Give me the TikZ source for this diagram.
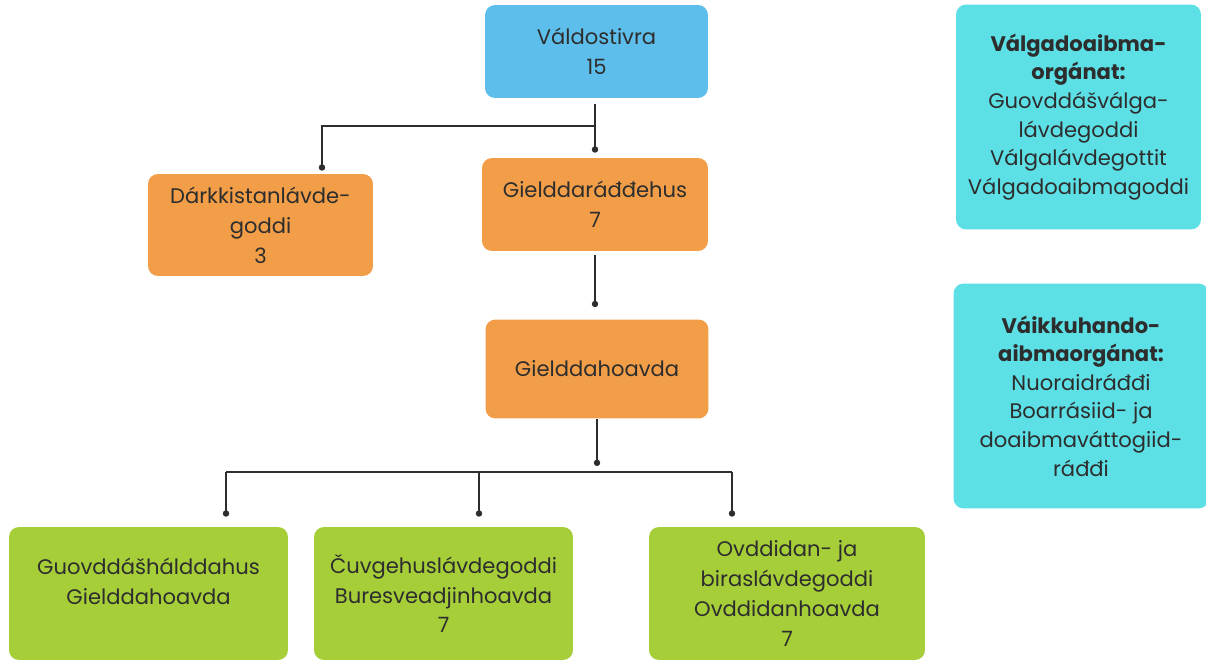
\documentclass[tikz,border=0pt]{standalone}
\usepackage{fontspec}
\setmainfont{Poppins}
\usepackage{tikz}
\definecolor{skyBlue}{RGB}{94,190,235}
\definecolor{boxOrange}{RGB}{242,158,72}
\definecolor{leafGreen}{RGB}{166,206,57}
\definecolor{lightCyan}{RGB}{92,224,230}
\definecolor{inkGray}{RGB}{45,45,45}
\usetikzlibrary{arrows.meta}
\tikzset{
    box/.style={rounded corners=0.2cm, align=center, inner sep=0pt, text=inkGray,
                font=\fontsize{12}{17}\selectfont},
    sidebox/.style={box, fill=lightCyan, minimum width=4.9cm, minimum height=4.5cm,
                font=\fontsize{12}{16.3}\selectfont},
    wire/.style={draw=inkGray, line width=0.9pt},
    link/.style={wire, -{Circle[length=3.6pt]}},
}

\begin{document}
\begin{tikzpicture}[x=0.02cm, y=-0.02cm]
        \useasboundingbox (0, 0) rectangle (1206, 661);

        % top level
        \node[box, fill=skyBlue,    minimum width=4.46cm, minimum height=1.86cm] (mayor)   at (596.5,  51.5) {Váldostivra\\15};
        \node[box, fill=boxOrange,  minimum width=4.50cm, minimum height=2.04cm] (board)   at (260.5, 225  ) {Dárkkistanlávde-\\goddi\\3};
        \node[box, fill=boxOrange,  minimum width=4.52cm, minimum height=1.86cm] (council) at (595  , 204.5) {Gielddaráđđehus\\7};
        \node[box, fill=boxOrange,  minimum width=4.46cm, minimum height=1.98cm] (hoavda)  at (597  , 369  ) {Gielddahoavda};

        % offices
        \node[box, fill=leafGreen,  minimum width=5.58cm, minimum height=2.66cm, text depth=0.5cm] (hall) at (148.5, 593.5) {Guovddášhálddahus\\Gielddahoavda};
        \node[box, fill=leafGreen,  minimum width=5.18cm, minimum height=2.66cm] (edu)     at (443.5, 593.5) {Čuvgehuslávdegoddi\\Buresveadjinhoavda\\7};
        \node[box, fill=leafGreen,  minimum width=5.52cm, minimum height=2.66cm] (dev)     at (787  , 593.5) {Ovddidan- ja\\biraslávdegoddi\\Ovddidanhoavda\\7};

        % side boxes
        \node[sidebox] (election)  at (1078.5, 117  ) {\textbf{Válgadoaibma-}\\\textbf{orgánat:}\\Guovddášválga-\\lávdegoddi\\Válgalávdegottit\\Válgadoaibmagoddi};
        \node[sidebox, minimum width=5.1cm] (influence) at (1081, 396) {\textbf{Váikkuhando-}\\\textbf{aibmaorgánat:}\\Nuoraidráđđi\\Boarrásiid- ja\\doaibmaváttogiid-\\ráđđi};

        % connectors
        \coordinate (split1) at (council.north |- 0, 126);
        \draw[link, shorten <=0.12cm, shorten >=0.1cm] (mayor.south -| council.north) -- (council.north);
        \draw[link, shorten >=0.06cm] (split1) -| (board.north -| 322, 0);

        \draw[link, shorten <=0.08cm, shorten >=0.24cm] (council.south) -- (council.south |- hoavda.north);
        \draw[link] (hoavda.south) -- (hoavda.south |- 0, 466);

        \coordinate (railA) at (226, 472);
        \coordinate (railB) at (479, 472);
        \coordinate (railC) at (732, 472);
        \draw[wire] (railA) -- (railC);
        \foreach \r/\b in {railA/hall, railB/edu, railC/dev}
            \draw[link, shorten >=0.2cm] (\r) -- (\r |- \b.north);
    \end{tikzpicture}
\end{document}
